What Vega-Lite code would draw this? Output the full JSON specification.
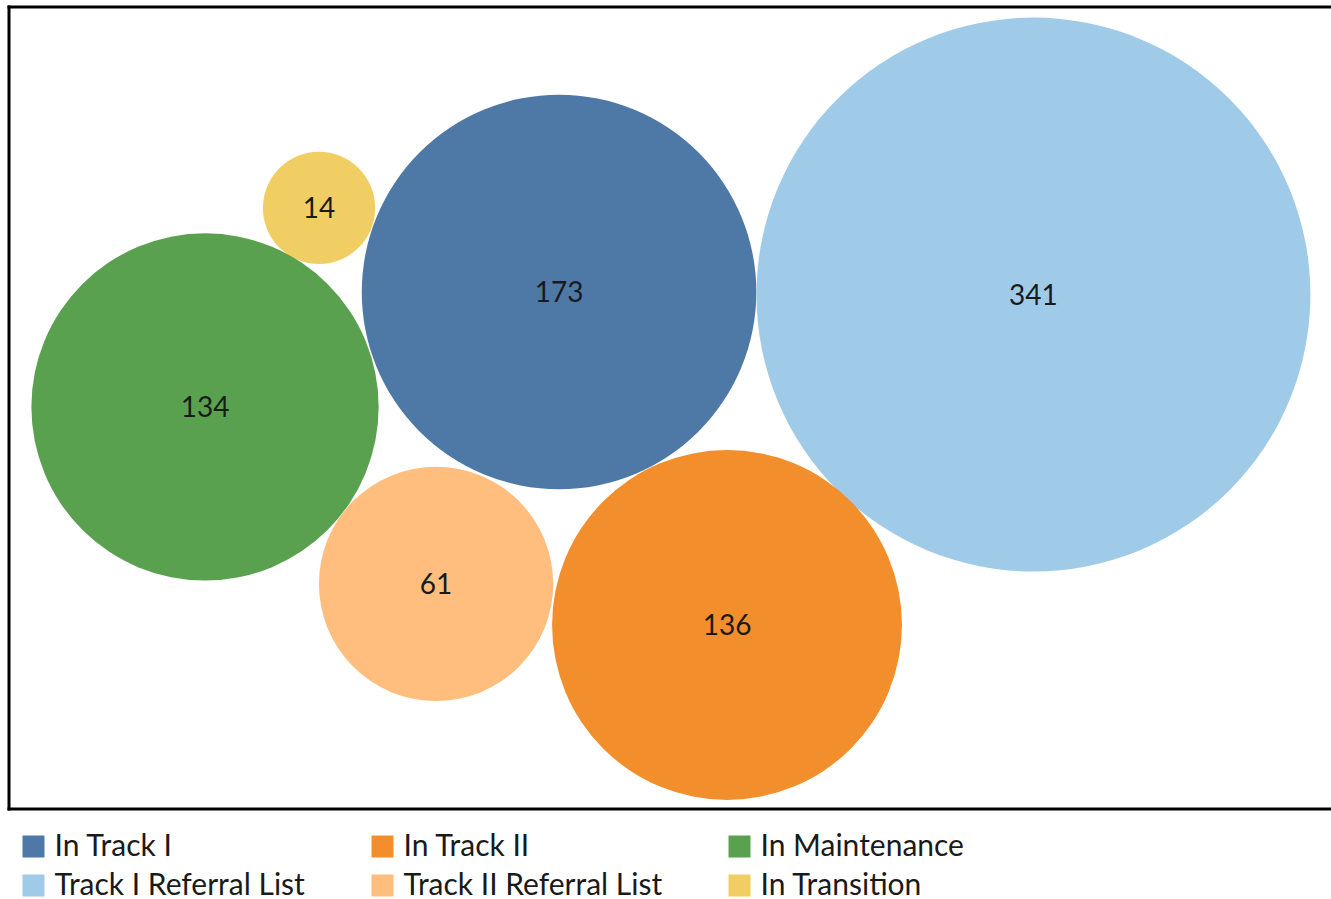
{
  "$schema": "https://vega.github.io/schema/vega-lite/v6.json",
  "width": 1322.5,
  "height": 802,
  "autosize": "none",
  "padding": {"left": 8.5, "top": 6.5, "right": 0, "bottom": 90.5},
  "background": "white",
  "config": {
    "view": {"stroke": null},
    "font": "Lato",
    "axis": {"domain": true, "domainColor": "black", "domainWidth": 3, "domainCap": "square", "ticks": false, "labels": false, "grid": false, "title": null}
  },
  "data": {
    "values": [
      {"status": "In Transition", "value": 14, "x": 23.48, "y": 44.93},
      {"status": "In Track I", "value": 173, "x": 41.63, "y": 38.64},
      {"status": "Track I Referral List", "value": 341, "x": 77.50, "y": 38.45},
      {"status": "In Maintenance", "value": 134, "x": 14.86, "y": 30.04},
      {"status": "Track II Referral List", "value": 61, "x": 32.33, "y": 16.80},
      {"status": "In Track II", "value": 136, "x": 54.33, "y": 13.73}
    ]
  },
  "layer": [
    {
      "mark": {"type": "circle", "opacity": 1},
      "encoding": {
        "x": {"field": "x", "type": "quantitative", "scale": {"domain": [0, 100], "nice": false, "zero": false}, "axis": {"orient": "bottom"}},
        "y": {"field": "y", "type": "quantitative", "scale": {"domain": [0, 60], "nice": false, "zero": false}, "axis": {"orient": "left"}},
        "size": {"field": "value", "type": "quantitative", "scale": {"type": "linear", "domain": [0, 341], "range": [0, 306900], "zero": true}, "legend": null},
        "color": {
          "field": "status", "type": "nominal",
          "scale": {
            "domain": ["In Track I", "In Track II", "In Maintenance", "Track I Referral List", "Track II Referral List", "In Transition"],
            "range": ["#4e79a7", "#f28e2b", "#59a14f", "#a0cbe8", "#ffbe7d", "#f1ce63"]
          },
          "legend": {
            "orient": "none", "legendX": 10, "legendY": 825, "direction": "horizontal", "columns": 3,
            "title": null, "padding": 0,
            "symbolType": "square", "symbolSize": 484, "symbolStrokeWidth": 0, "symbolOpacity": 1,
            "labelFont": "Lato", "labelFontSize": 30, "labelColor": "#1a1a1a", "labelOffset": 6, "labelLimit": 400,
            "columnPadding": 62, "rowPadding": 9
          }
        }
      }
    },
    {
      "mark": {"type": "text", "fontSize": 28, "font": "Lato", "color": "#1a1a1a", "baseline": "middle", "align": "center", "dy": 2},
      "encoding": {
        "x": {"field": "x", "type": "quantitative", "scale": {"domain": [0, 100], "nice": false, "zero": false}, "axis": {"orient": "top"}},
        "y": {"field": "y", "type": "quantitative", "scale": {"domain": [0, 60], "nice": false, "zero": false}},
        "text": {"field": "value", "type": "quantitative"}
      }
    }
  ],
  "resolve": {"axis": {"x": "independent"}}
}
